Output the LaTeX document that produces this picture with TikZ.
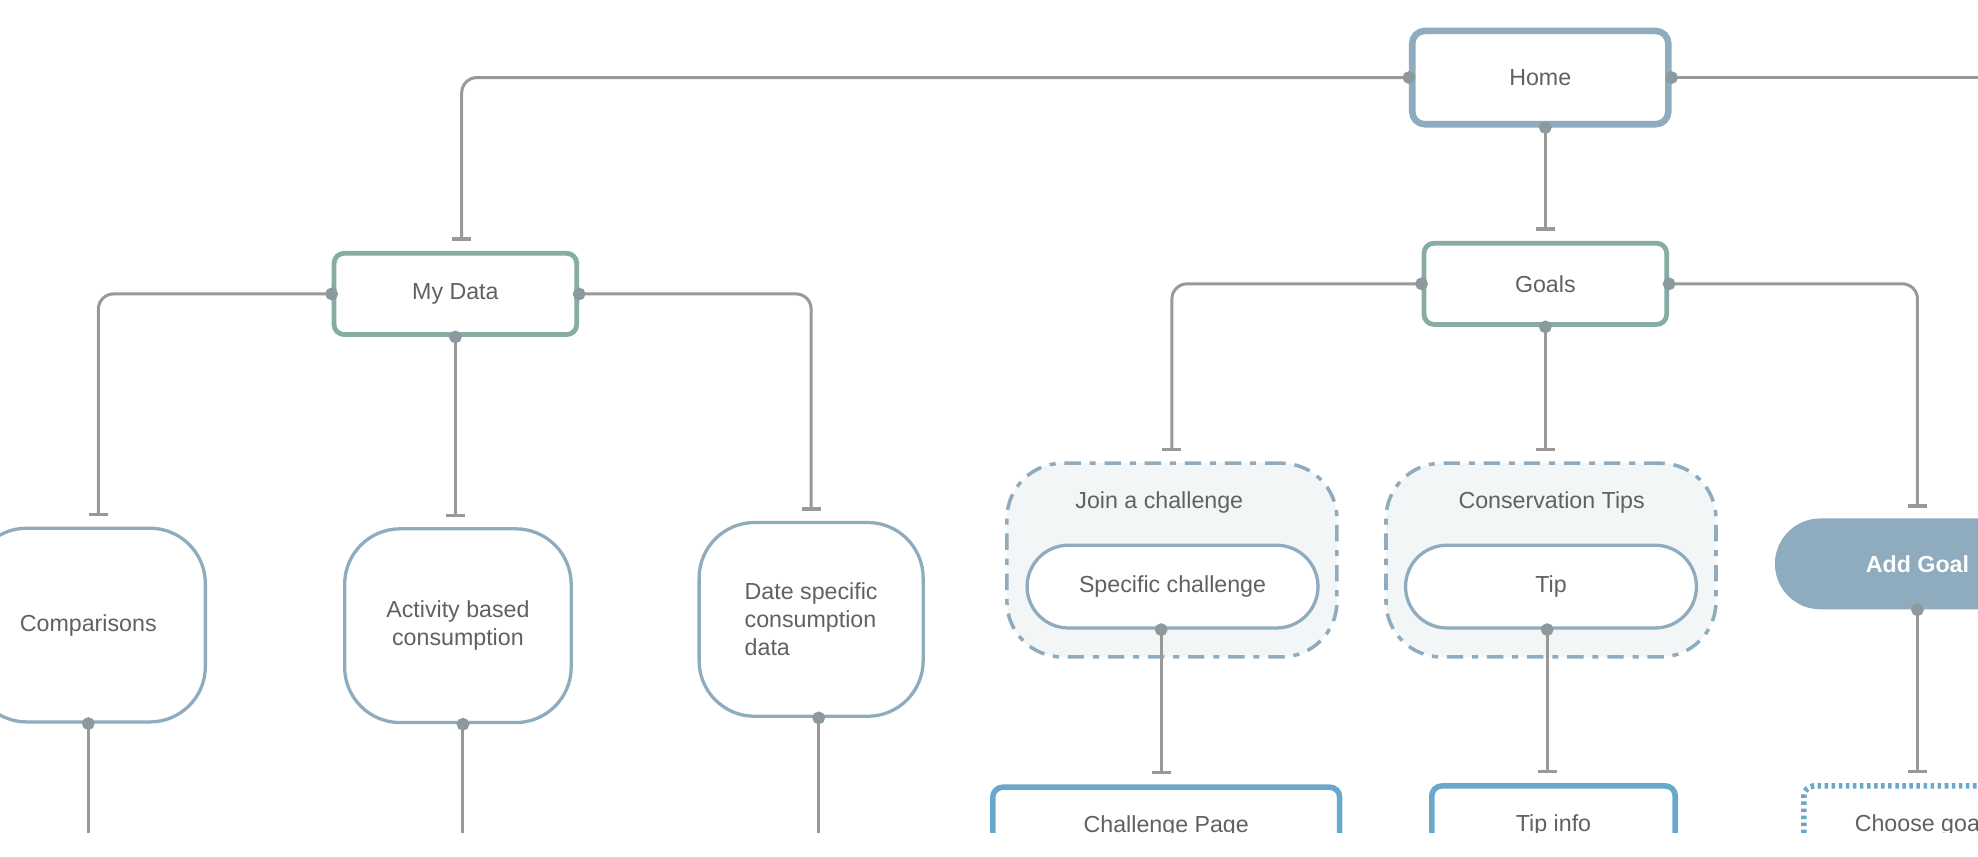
\documentclass[tikz,border=0pt]{standalone}
\usepackage{fontspec}
\setmainfont{Liberation Sans}
\usetikzlibrary{arrows.meta,positioning}

\definecolor{homeblue}{HTML}{8FABBE}
\definecolor{tealgreen}{HTML}{86ADA5}
\definecolor{pageblue}{HTML}{6AA8CB}
\definecolor{groupfill}{HTML}{F3F6F7}
\definecolor{linegray}{HTML}{999999}
\definecolor{dotgray}{HTML}{8C999D}
\definecolor{txtgray}{HTML}{616161}

\begin{document}
\begin{tikzpicture}[x=0.5pt,y=-0.5pt,
  font=\fontsize{9.2}{11}\selectfont,
  box/.style={inner sep=0pt,text=txtgray},
  homebox/.style={box,draw=homeblue,line width=2.6pt,rounded corners=5pt,fill=white,
    minimum width=101.5pt,minimum height=37pt},
  sectionbox/.style={box,draw=tealgreen,line width=1.9pt,rounded corners=4pt,fill=white,
    minimum width=96.2pt,minimum height=32.2pt},
  databox/.style={box,draw=homeblue,line width=1.3pt,rounded corners=22pt,fill=white,
    minimum height=76.8pt},
  groupbox/.style={box,draw=homeblue,fill=groupfill,line width=1.4pt,rounded corners=22pt,
    dash pattern=on 6.5pt off 3.5pt on 2.4pt off 3.5pt,
    minimum width=130.8pt,minimum height=76.8pt},
  pillbox/.style={box,draw=homeblue,line width=1.3pt,rounded corners=16.4pt,fill=white,
    minimum width=115.3pt,minimum height=32.8pt},
  actionbox/.style={box,fill=homeblue,rounded corners=18pt,text=white,font=\fontsize{9.2}{11}\selectfont\bfseries,
    minimum width=113pt,minimum height=36pt},
  pagebox/.style={box,draw=pageblue,line width=2.2pt,rounded corners=4pt,fill=white,
    minimum height=31pt},
  draftbox/.style={pagebox,dash pattern=on 1.4pt off 1.4pt},
  link/.style={draw=linegray,line width=1.2pt,rounded corners=6pt,
    {Circle[length=5pt,color=dotgray]}-{Bar[width=7.5pt,line width=1.4pt]},
    shorten <=-2.5pt,shorten >=4pt},
  stub/.style={draw=linegray,line width=1.2pt,
    {Circle[length=5pt,color=dotgray]}-,shorten <=-2.5pt}]

\useasboundingbox (0,0) rectangle (1568,678.6);
\clip (0,0) rectangle (1568,660);

% top level
\node[homebox] (home) at (1221,61.5) {Home};
\node[sectionbox] (mydata) at (361,233) {My Data};
\node[sectionbox] (goals) at (1225,225) {Goals};

% my data branch
\node[databox,minimum width=92.8pt] (comp) at (70,495.5) {Comparisons};
\node[databox,minimum width=89.8pt,align=center] (activity) at (363,496) {Activity based\\consumption};
\node[databox,minimum width=88.8pt,align=left] (datespec) at (643,491) {Date specific\\consumption\\data};

% goals branch
\node[groupbox] (join) at (929,444) {};
\node[box] (jointitle) at (919,398) {Join a challenge};
\node[pillbox] (specific) at (929.5,465) {Specific challenge};

\node[groupbox] (tips) at (1229.5,444) {};
\node[box] (tipstitle) at (1230,398) {Conservation Tips};
\node[pillbox] (tip) at (1229.5,465) {Tip};

\node[actionbox] (addgoal) at (1520,447) {Add Goal};

% pages
\node[pagebox,minimum width=137.5pt] (chpage) at (924.5,655) {Challenge Page};
\node[pagebox,minimum width=96.5pt] (tipinfo) at (1231.5,654) {Tip info};
\node[draftbox,minimum width=92pt] (choose) at (1522,654) {Choose goal};

\coordinate (offright) at (1600,61.5);
\coordinate (compend) at (70,700);
\coordinate (actend) at (367,700);
\coordinate (dateend) at (649,700);

% connectors
\draw[stub] (home.east) -- (offright);
\draw[link] (home.west) -| ([xshift=2.5pt]mydata.north);
\draw[link] ([xshift=2pt]home.south) -- (goals.north);

\draw[link] (mydata.west) -| ([xshift=4pt]comp.north);
\draw[link] (mydata.south) -- (mydata.south |- activity.north);
\draw[link] (mydata.east) -| (datespec.north);

\draw[link] (goals.west) -| (join.north);
\draw[link] (goals.south) -- (goals.south |- tips.north);
\draw[link] (goals.east) -| (addgoal.north);

\draw[stub] (comp.south) -- (compend);
\draw[stub] (activity.south -| actend) -- (actend);
\draw[stub] (datespec.south -| dateend) -- (dateend);

\draw[link] ([xshift=-4.5pt]specific.south) -- ([xshift=-4.5pt]specific.south |- chpage.north);
\draw[link] ([xshift=-1.5pt]tip.south) -- ([xshift=-1.5pt]tip.south |- tipinfo.north);
\draw[link] (addgoal.south) -- (addgoal.south |- choose.north);

\end{tikzpicture}
\end{document}
